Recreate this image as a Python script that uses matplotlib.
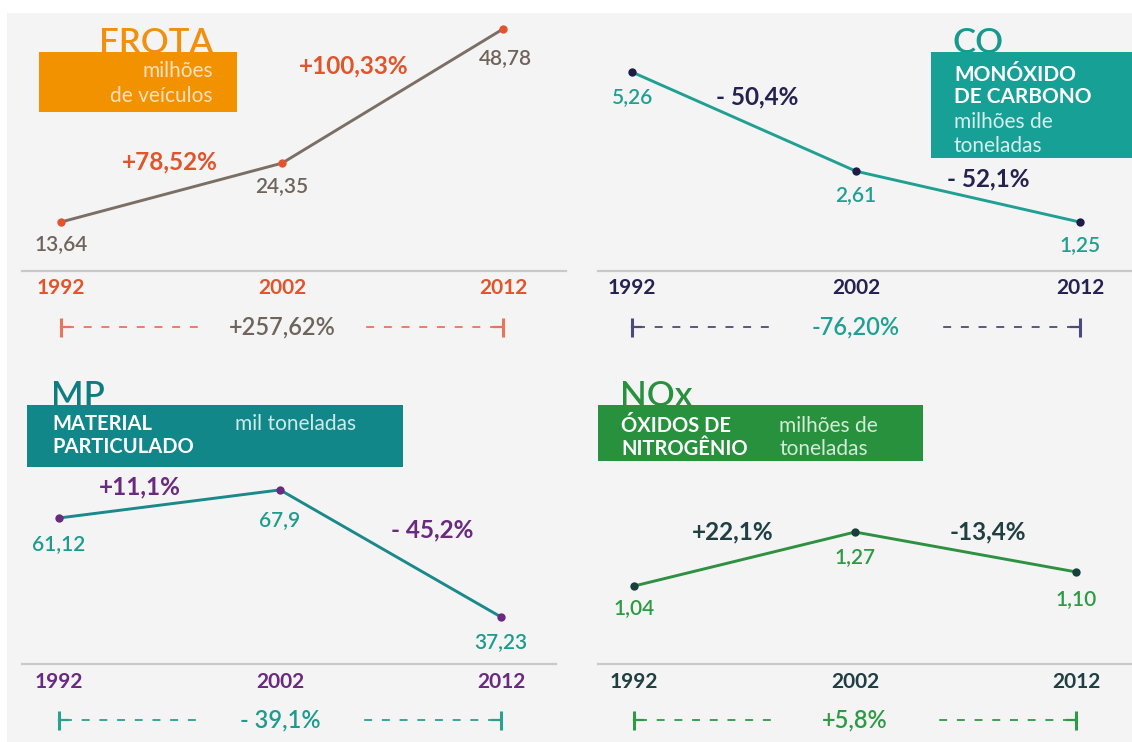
import matplotlib
matplotlib.use("Agg")
import matplotlib.pyplot as plt
from matplotlib.patches import Rectangle
from matplotlib.transforms import blended_transform_factory

plt.rcParams['font.family'] = ['Lato', 'DejaVu Sans']

# ---------------- data ----------------
years = [1992, 2002, 2012]
year_labels = ["1992", "2002", "2012"]

frota = [13.64, 24.35, 48.78]
frota_labels = ["13,64", "24,35", "48,78"]
frota_changes = ["+78,52%", "+100,33%"]
frota_total = "+257,62%"

co = [5.26, 2.61, 1.25]
co_labels = ["5,26", "2,61", "1,25"]
co_changes = ["- 50,4%", "- 52,1%"]
co_total = "-76,20%"

mp = [61.12, 67.9, 37.23]
mp_labels = ["61,12", "67,9", "37,23"]
mp_changes = ["+11,1%", "- 45,2%"]
mp_total = "- 39,1%"

nox = [1.04, 1.27, 1.10]
nox_labels = ["1,04", "1,27", "1,10"]
nox_changes = ["+22,1%", "-13,4%"]
nox_total = "+5,8%"

W, H = 1132, 742
fig = plt.figure(figsize=(W / 100, H / 100), dpi=100)
fig.patch.set_facecolor("white")

# canvas axes in pixel coordinates for decorations
cv = fig.add_axes([0, 0, 1, 1], zorder=0)
cv.set_xlim(0, W)
cv.set_ylim(H, 0)
cv.axis("off")
cv.add_patch(Rectangle((7, 13), W - 7, H - 13, facecolor="#f4f4f4", edgecolor="none", zorder=0))


def data_axes(px_box, xlim, ylim):
    x0, y0, x1, y1 = px_box
    ax = fig.add_axes([x0 / W, 1 - y1 / H, (x1 - x0) / W, (y1 - y0) / H], zorder=2)
    ax.set_xlim(*xlim)
    ax.set_ylim(*ylim)
    ax.axis("off")
    ax.patch.set_alpha(0)
    return ax


def panel(ax, vals, labels, changes, total, *, line_c, pt_c, val_c, chg_c, yr_c,
          rng_c, tot_c, base_y, base_x, yr_y, rng_y, val_offsets, chg_offsets):
    ax.plot(years, vals, color=line_c, lw=2.1, zorder=3, solid_capstyle="round")
    ax.scatter(years, vals, s=36, color=pt_c, zorder=4, linewidths=0)
    for x, v, lab, off in zip(years, vals, labels, val_offsets):
        ax.annotate(lab, (x, v), xytext=off, textcoords="offset pixels",
                    ha="center", va="center", fontsize=15, color=val_c,
                    fontweight="semibold")
    for i, (lab, off) in enumerate(zip(changes, chg_offsets)):
        mx = (years[i] + years[i + 1]) / 2
        my = (vals[i] + vals[i + 1]) / 2
        ax.annotate(lab, (mx, my), xytext=off, textcoords="offset pixels",
                    ha="center", va="center", fontsize=17.5, color=chg_c,
                    fontweight="bold")
    # baseline
    cv.plot(base_x, [base_y, base_y], color="#c9c9c9", lw=1.6, zorder=1)
    tr = blended_transform_factory(ax.transData, cv.transData)
    for x, lab in zip(years, year_labels):
        ax.text(x, yr_y, lab, transform=tr, ha="center", va="center",
                fontsize=15, fontweight="bold", color=yr_c)
    # range line
    ax.text(years[1], rng_y, total, transform=tr, ha="center", va="center",
            fontsize=17, color=tot_c, fontweight="semibold")
    x_to_px = lambda x: ax.transData.transform((x, 0))[0]
    inv = cv.transData.inverted()
    xl = inv.transform((x_to_px(years[0]), 0))[0]
    xm = inv.transform((x_to_px(years[1]), 0))[0]
    xr = inv.transform((x_to_px(years[2]), 0))[0]
    gap = 80
    cv.plot([xl + 5, xm - gap], [rng_y, rng_y], color=rng_c, lw=1.3,
            linestyle=(0, (4.4, 5.4)), zorder=2)
    cv.plot([xr - 5, xm + gap], [rng_y, rng_y], color=rng_c, lw=1.3,
            linestyle=(0, (4.4, 5.4)), zorder=2)
    for xx in (xl, xr):
        cv.plot([xx, xx], [rng_y - 9, rng_y + 10], color=rng_c, lw=2.2, zorder=2,
                solid_capstyle="butt")
    cv.plot([xl, xl + 9], [rng_y, rng_y], color=rng_c, lw=1.6, zorder=2)
    cv.plot([xr - 9, xr], [rng_y, rng_y], color=rng_c, lw=1.6, zorder=2)


BOX_TXT = 15

# ---------------- FROTA ----------------
ax1 = data_axes((8, 13, 566, 371), (1989.60, 2014.85), (-13.49, 51.69))
panel(ax1, frota, frota_labels, frota_changes, frota_total,
      line_c="#7b6f65", pt_c="#e4542c", val_c="#6f645b", chg_c="#e0552c",
      yr_c="#e0552c", rng_c="#e8755a", tot_c="#6f645b",
      base_y=271, base_x=[22, 566], yr_y=288, rng_y=327,
      val_offsets=[(0, -22), (0, -23), (2, -29)],
      chg_offsets=[(-2, 31), (-39, 30)])
cv.text(213, 53, "FROTA", ha="right", va="baseline", fontsize=25, color="#f0900e",
        fontweight="semibold", zorder=2)
cv.add_patch(Rectangle((39, 52), 198, 60, facecolor="#f39200", edgecolor="none", zorder=3))
cv.text(213, 77, "milhões", ha="right", va="baseline", fontsize=BOX_TXT, color="#fde1bd",
        fontweight="normal", zorder=4)
cv.text(213, 102, "de veículos", ha="right", va="baseline", fontsize=BOX_TXT, color="#fde1bd",
        fontweight="normal", zorder=4)

# ---------------- CO ----------------
ax2 = data_axes((566, 13, 1124, 371), (1989.05, 2013.96), (-2.73, 6.84))
panel(ax2, co, co_labels, co_changes, co_total,
      line_c="#20a092", pt_c="#1d1b48", val_c="#20a092", chg_c="#24224f",
      yr_c="#24224f", rng_c="#4b4a7e", tot_c="#20a092",
      base_y=271, base_x=[598, 1132], yr_y=288, rng_y=327,
      val_offsets=[(0, -25), (0, -24), (0, -23)],
      chg_offsets=[(13, 25), (20, 18)])
cv.text(953, 53, "CO", ha="left", va="baseline", fontsize=25, color="#17998f",
        fontweight="semibold", zorder=2)
cv.add_patch(Rectangle((931, 52), 201, 106, facecolor="#17a096", edgecolor="none", zorder=3))
cv.text(954, 81, "MONÓXIDO", ha="left", va="baseline", fontsize=15, color="white",
        fontweight="bold", zorder=4)
cv.text(954, 103, "DE CARBONO", ha="left", va="baseline", fontsize=15, color="white",
        fontweight="bold", zorder=4)
cv.text(954, 128, "milhões de", ha="left", va="baseline", fontsize=BOX_TXT, color="#d5f0ec",
        fontweight="normal", zorder=4)
cv.text(954, 152, "toneladas", ha="left", va="baseline", fontsize=BOX_TXT, color="#d5f0ec",
        fontweight="normal", zorder=4)

# ---------------- MP ----------------
ax3 = data_axes((8, 371, 566, 740), (1989.69, 2014.94), (7.55, 96.59))
panel(ax3, mp, mp_labels, mp_changes, mp_total,
      line_c="#1a898b", pt_c="#6a2a80", val_c="#1e9b8d", chg_c="#6a2a80",
      yr_c="#6a2a80", rng_c="#2aa08e", tot_c="#1e9b8d",
      base_y=664, base_x=[22, 556], yr_y=682, rng_y=720,
      val_offsets=[(0, -26), (0, -30), (0, -25)],
      chg_offsets=[(-30, 17), (42, 24)])
cv.text(51, 406, "MP", ha="left", va="baseline", fontsize=25, color="#0f7d80",
        fontweight="semibold", zorder=2)
cv.add_patch(Rectangle((27, 405), 376, 62, facecolor="#12878a", edgecolor="none", zorder=3))
cv.text(52, 430, "MATERIAL", ha="left", va="baseline", fontsize=14.5, color="white",
        fontweight="bold", zorder=4)
cv.text(52, 453, "PARTICULADO", ha="left", va="baseline", fontsize=14.5, color="white",
        fontweight="bold", zorder=4)
cv.text(235, 430, "mil toneladas", ha="left", va="baseline", fontsize=BOX_TXT, color="#cdeae8",
        fontweight="normal", zorder=4)

# ---------------- NOx ----------------
ax4 = data_axes((566, 371, 1124, 740), (1988.92, 2014.17), (0.384, 1.956))
panel(ax4, nox, nox_labels, nox_changes, nox_total,
      line_c="#2e9142", pt_c="#183f3e", val_c="#2e9a45", chg_c="#1f3f42",
      yr_c="#1f3f42", rng_c="#2e9a45", tot_c="#2e9a45",
      base_y=664, base_x=[598, 1132], yr_y=682, rng_y=720,
      val_offsets=[(0, -22), (0, -25), (0, -27)],
      chg_offsets=[(-12, 27), (22, 20)])
cv.text(620, 406, "NOx", ha="left", va="baseline", fontsize=25, color="#27913e",
        fontweight="semibold", zorder=2)
cv.add_patch(Rectangle((598, 405), 325, 56, facecolor="#27913e", edgecolor="none", zorder=3))
cv.text(621, 432, "ÓXIDOS DE", ha="left", va="baseline", fontsize=14.5, color="white",
        fontweight="bold", zorder=4)
cv.text(621, 455, "NITROGÊNIO", ha="left", va="baseline", fontsize=14.5, color="white",
        fontweight="bold", zorder=4)
cv.text(779, 432, "milhões de", ha="left", va="baseline", fontsize=BOX_TXT, color="#d3ecd7",
        fontweight="normal", zorder=4)
cv.text(779, 455, "toneladas", ha="left", va="baseline", fontsize=BOX_TXT, color="#d3ecd7",
        fontweight="normal", zorder=4)

fig.savefig("out.png", dpi=100, facecolor="white")
